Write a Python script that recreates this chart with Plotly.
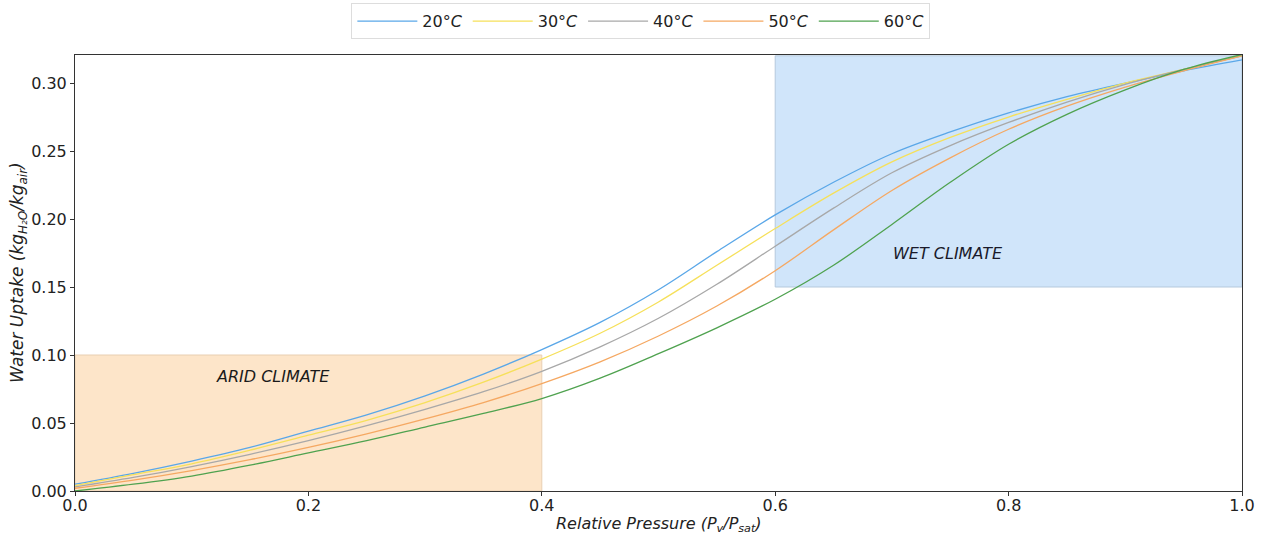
import plotly.graph_objects as go

rel_pressure = [0.0, 0.05, 0.1, 0.15, 0.2, 0.25, 0.3, 0.35, 0.4, 0.45, 0.5,
                0.55, 0.6, 0.65, 0.7, 0.75, 0.8, 0.85, 0.9, 0.95, 1.0]
uptake_20 = [0.005, 0.013, 0.022, 0.032, 0.044, 0.056, 0.070, 0.086, 0.104, 0.124, 0.148,
             0.176, 0.203, 0.227, 0.248, 0.264, 0.278, 0.290, 0.300, 0.309, 0.317]
uptake_30 = [0.004, 0.012, 0.020, 0.030, 0.041, 0.052, 0.065, 0.080, 0.097, 0.116, 0.139,
             0.166, 0.193, 0.219, 0.242, 0.260, 0.275, 0.288, 0.300, 0.310, 0.320]
uptake_40 = [0.003, 0.010, 0.018, 0.027, 0.037, 0.048, 0.060, 0.073, 0.088, 0.106, 0.127,
             0.152, 0.180, 0.208, 0.234, 0.254, 0.271, 0.286, 0.299, 0.310, 0.320]
uptake_50 = [0.002, 0.008, 0.015, 0.023, 0.032, 0.042, 0.053, 0.065, 0.079, 0.095, 0.114,
             0.136, 0.162, 0.192, 0.221, 0.245, 0.266, 0.283, 0.297, 0.309, 0.320]
uptake_60 = [0.000, 0.005, 0.011, 0.019, 0.028, 0.037, 0.047, 0.057, 0.068, 0.083, 0.101,
             0.120, 0.141, 0.166, 0.196, 0.227, 0.255, 0.277, 0.295, 0.310, 0.321]

series_names = ["20°<i>C</i>", "30°<i>C</i>", "40°<i>C</i>", "50°<i>C</i>", "60°<i>C</i>"]
series_values = [uptake_20, uptake_30, uptake_40, uptake_50, uptake_60]
colors = ["#5aa7e8", "#f6e05a", "#a8a8a8", "#f5a862", "#4fa24f"]

arid_x = [0.0, 0.4]
arid_y = [0.0, 0.1]
wet_x = [0.6, 1.0]
wet_y = [0.15, 0.32]

fig = go.Figure()
for name, vals, c in zip(series_names, series_values, colors):
    fig.add_trace(go.Scatter(x=rel_pressure, y=vals, mode="lines", name=name,
                             line=dict(color=c, width=1.3, shape="spline", smoothing=1.0)))

fig.add_shape(type="rect", x0=arid_x[0], x1=arid_x[1], y0=arid_y[0], y1=arid_y[1],
              xref="x", yref="y", fillcolor="#fde5c9", line=dict(color="#e8cfb2", width=1), layer="below")
fig.add_shape(type="rect", x0=wet_x[0], x1=wet_x[1], y0=wet_y[0], y1=wet_y[1],
              xref="x", yref="y", fillcolor="#d0e5fa", line=dict(color="#b5c9dd", width=1), layer="below")

fig.add_annotation(x=0.17, y=0.084, text="<i>ARID CLIMATE</i>", showarrow=False,
                   font=dict(size=16, color="#1a1a1a", family="DejaVu Sans"))
fig.add_annotation(x=0.748, y=0.175, text="<i>WET CLIMATE</i>", showarrow=False,
                   font=dict(size=16, color="#1a1a2a", family="DejaVu Sans"))

# axis titles
fig.add_annotation(x=0.5, y=0, xref="paper", yref="paper", xanchor="center", yanchor="top",
                   yshift=-21, showarrow=False,
                   text="<i>Relative Pressure (P<sub>v</sub>/P<sub>sat</sub>)</i>",
                   font=dict(size=16, color="#222222", family="DejaVu Sans"))
fig.add_annotation(x=0, y=0.5, xref="paper", yref="paper", xanchor="center", yanchor="middle",
                   xshift=-57, showarrow=False, textangle=-90,
                   text="<i>Water Uptake (kg<sub>H₂O</sub>/kg<sub>air</sub>)</i>",
                   font=dict(size=17, color="#222222", family="DejaVu Sans"))

axis_common = dict(showline=True, linecolor="#333333", linewidth=1, mirror=True,
                   ticks="outside", ticklen=4, tickcolor="#333333", showgrid=False, zeroline=False,
                   tickfont=dict(size=16, color="#222222"), automargin=False)

fig.update_layout(
    width=1264, height=535,
    margin=dict(l=75, r=22, t=55, b=44),
    paper_bgcolor="white", plot_bgcolor="white",
    font=dict(family="DejaVu Sans", size=16, color="#222222"),
    xaxis=dict(range=[0, 1], tickvals=[0, 0.2, 0.4, 0.6, 0.8, 1.0], tickformat=".1f",
               ticklabelstandoff=-4, **axis_common),
    yaxis=dict(range=[0, 0.3206], tickvals=[0, 0.05, 0.10, 0.15, 0.20, 0.25, 0.30], tickformat=".2f",
               **axis_common),
    legend=dict(orientation="h", x=0.507, xanchor="center", xref="container",
                y=0.994, yanchor="top", yref="container",
                bordercolor="#dddddd", borderwidth=1, font=dict(size=16),
                itemwidth=60, tracegroupgap=0),
    showlegend=True,
)

fig.write_html("out.html")
